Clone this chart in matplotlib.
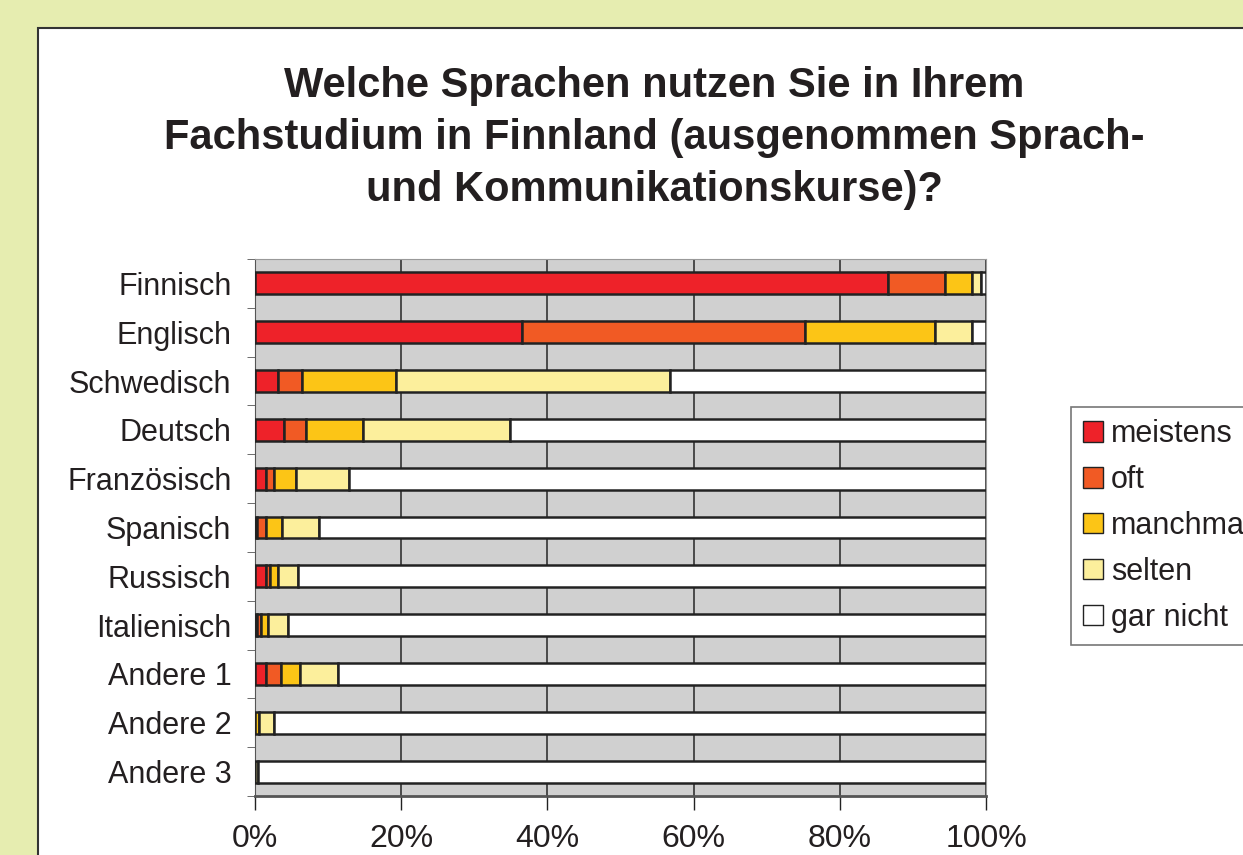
import matplotlib.pyplot as plt
import matplotlib.patches as mpatches
import numpy as np

categories = ['Finnisch', 'Englisch', 'Schwedisch', 'Deutsch', 'Französisch', 'Spanisch',
              'Russisch', 'Italienisch', 'Andere 1', 'Andere 2', 'Andere 3']
meistens = [86.6, 36.5, 3.1, 4.0, 1.5, 0.3, 1.5, 0.3, 1.5, 0.0, 0.0]
oft = [7.8, 38.7, 3.3, 3.0, 1.1, 1.2, 0.5, 0.5, 2.0, 0.0, 0.0]
manchmal = [3.7, 17.8, 12.9, 7.8, 3.0, 2.2, 1.1, 1.0, 2.7, 0.6, 0.0]
selten = [1.2, 5.1, 37.5, 20.1, 7.3, 5.1, 2.8, 2.7, 5.1, 2.0, 0.4]
series = [('meistens', meistens, '#ee2229'),
          ('oft', oft, '#f15a24'),
          ('manchmal', manchmal, '#fcc516'),
          ('selten', selten, '#fcef9c')]
xticks = [0, 20, 40, 60, 80, 100]
title = ('Welche Sprachen nutzen Sie in Ihrem\n'
         'Fachstudium in Finnland (ausgenommen Sprach-\n'
         'und Kommunikationskurse)?')

plt.rcParams['font.family'] = ['Liberation Sans', 'DejaVu Sans']

fig = plt.figure(figsize=(12.43, 8.55), dpi=100)
fig.patch.set_facecolor('#e6edb0')
W, H = 1243, 855
# white panel behind everything
panel = mpatches.Rectangle((38 / W, -0.1), 1.2, 1 - 28 / H + 0.1,
                           transform=fig.transFigure, facecolor='white',
                           edgecolor='#333333', linewidth=1.5, zorder=-10)
fig.patches.append(panel)

ax = fig.add_axes([255 / W, 1 - 796 / H, (986 - 255) / W, (796 - 259) / H])
ax.set_facecolor('#d0d0d0')

y = np.arange(len(categories))
left = np.zeros(len(categories))
handles = []
for name, vals, col in series:
    vals = np.array(vals)
    ax.barh(y, vals, left=left, height=0.45, color=col, edgecolor='#222222',
            linewidth=1.8, zorder=3)
    left += vals
    handles.append(mpatches.Patch(facecolor=col, edgecolor='#222222', label=name))
rest = 100 - left
ax.barh(y, rest, left=left, height=0.45, color='white', edgecolor='#222222',
        linewidth=1.8, zorder=3)
handles.append(mpatches.Patch(facecolor='white', edgecolor='#222222', label='gar nicht'))

ax.set_xlim(0, 100)
ax.set_ylim(len(categories) - 0.5, -0.5)
ax.set_xticks(xticks)
ax.set_xticklabels([f'{t}%' for t in xticks], fontsize=23)
ax.tick_params(axis='x', length=10, width=1, color='#222222', pad=10)
ax.set_yticks(y)
ax.set_yticklabels(categories, fontsize=22)
ax.tick_params(axis='y', length=0, pad=17)
ax.set_yticks(np.arange(len(categories) + 1) - 0.5, minor=True)
ax.tick_params(axis='y', which='minor', length=6, color='#555555')
ax.grid(axis='x', color='#333333', linewidth=1.2, zorder=1)
for s in ['top', 'right']:
    ax.spines[s].set_color('#999999')
ax.spines['left'].set_color('#555555')
ax.spines['bottom'].set_color('#555555')
ax.spines['bottom'].set_linewidth(2)
for lab in ax.get_xticklabels() + ax.get_yticklabels():
    lab.set_color('#231f20')

fig.text(654 / W, 1 - 138 / H, title, ha='center', va='center', fontsize=30,
         fontweight='bold', linespacing=1.4, color='#231f20')

leg = fig.legend(handles=handles, loc='upper left', bbox_to_anchor=(1071 / W, 1 - 407 / H),
                 fontsize=22, frameon=True, fancybox=False, edgecolor='#555555',
                 handlelength=0.65, handleheight=0.65, handletextpad=0.25,
                 labelspacing=0.52, borderpad=0.4, borderaxespad=0)
leg.get_frame().set_linewidth(1.2)
for t in leg.get_texts():
    t.set_color('#231f20')

fig.savefig('out.png', dpi=100, facecolor=fig.get_facecolor())
